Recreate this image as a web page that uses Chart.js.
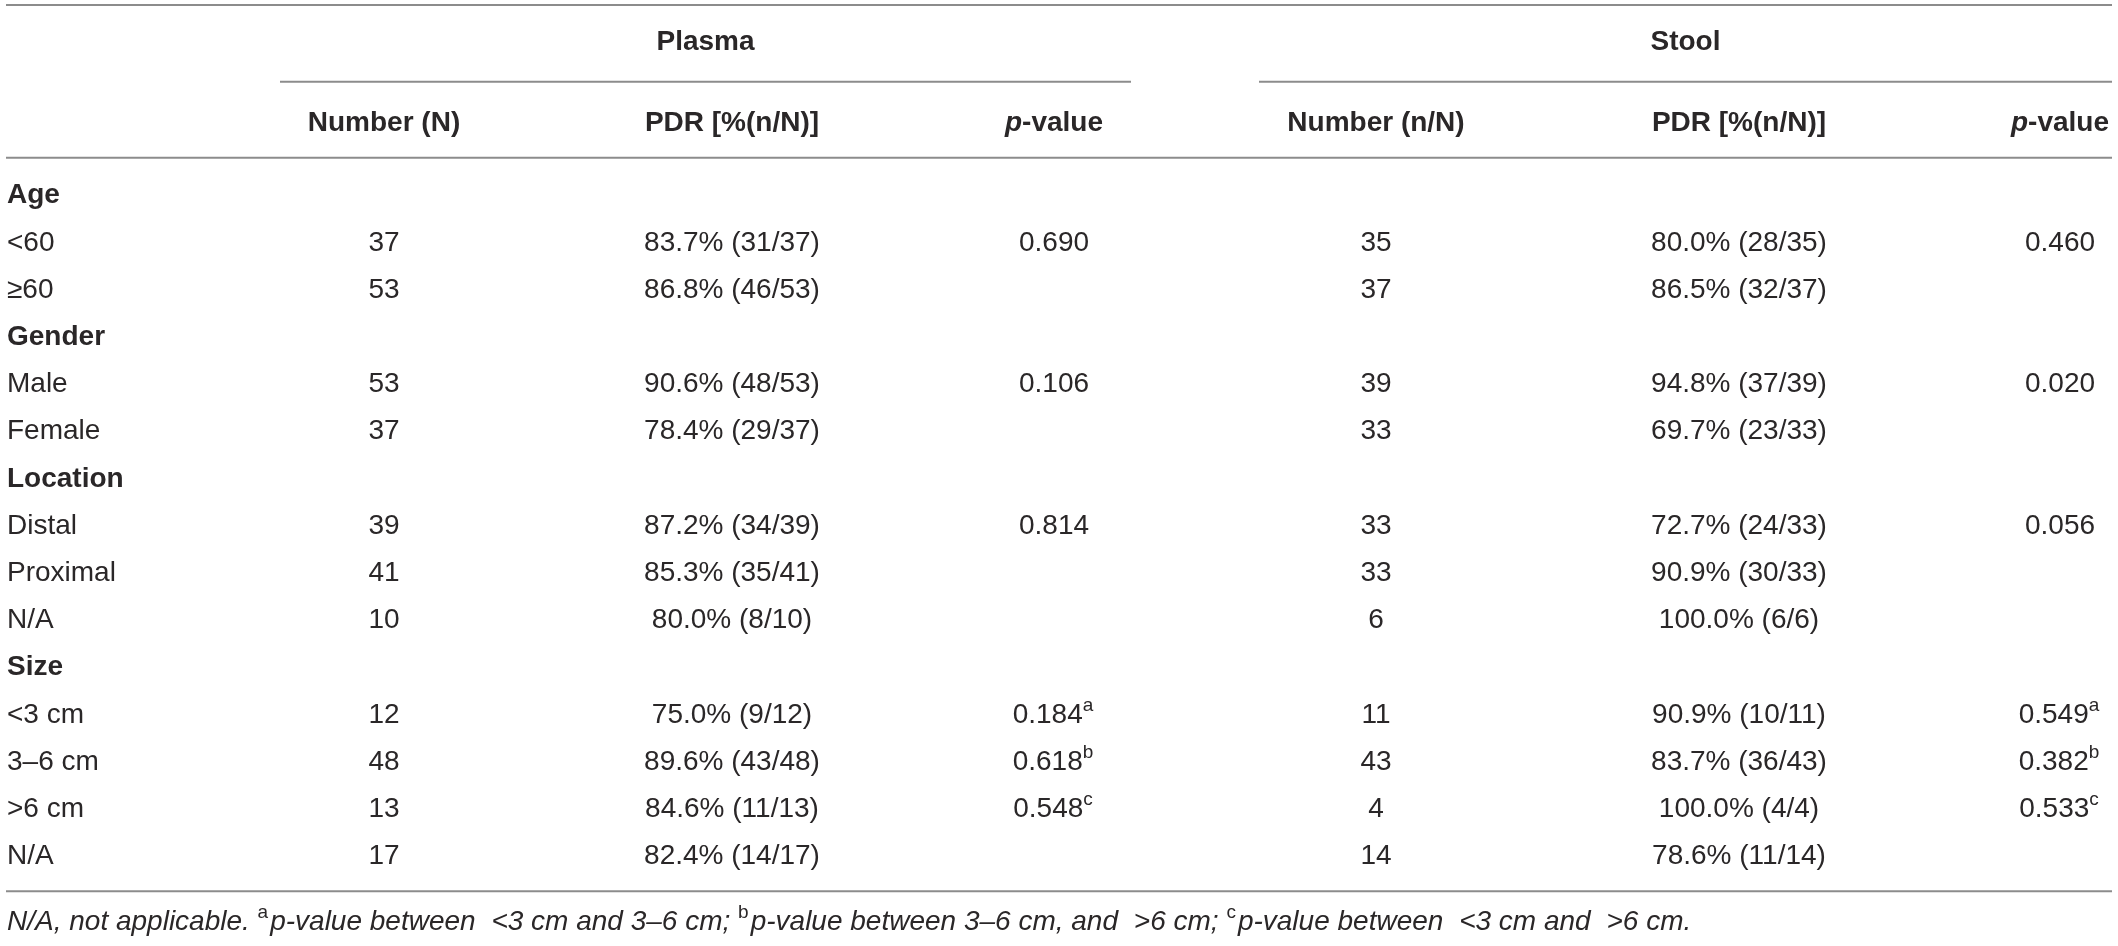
<!DOCTYPE html>
<html>
<head>
<meta charset="utf-8">
<script src="https://cdn.jsdelivr.net/npm/chart.js@4"></script>
<style>
  html,body{margin:0;padding:0;background:#fff;}
  #wrap{width:2118px;height:946px;}
</style>
</head>
<body>
<div id="wrap"><canvas id="tbl" width="2118" height="946"></canvas></div>
<script>
// table data
const rowLabels = ['Age','<60','\u226560','Gender','Male','Female','Location','Distal','Proximal','N/A','Size','<3 cm','3\u20136 cm','>6 cm','N/A'];
const groupRows = [0,3,6,10];

const plasmaN   = [null,'37','53',null,'53','37',null,'39','41','10',null,'12','48','13','17'];
const plasmaPDR = [null,'83.7% (31/37)','86.8% (46/53)',null,'90.6% (48/53)','78.4% (29/37)',null,
                   '87.2% (34/39)','85.3% (35/41)','80.0% (8/10)',null,
                   '75.0% (9/12)','89.6% (43/48)','84.6% (11/13)','82.4% (14/17)'];
const plasmaP   = [null,'0.690',null,null,'0.106',null,null,'0.814',null,null,null,'0.184','0.618','0.548',null];

const stoolN    = [null,'35','37',null,'39','33',null,'33','33','6',null,'11','43','4','14'];
const stoolPDR  = [null,'80.0% (28/35)','86.5% (32/37)',null,'94.8% (37/39)','69.7% (23/33)',null,
                   '72.7% (24/33)','90.9% (30/33)','100.0% (6/6)',null,
                   '90.9% (10/11)','83.7% (36/43)','100.0% (4/4)','78.6% (11/14)'];
const stoolP    = [null,'0.460',null,null,'0.020',null,null,'0.056',null,null,null,'0.549','0.382','0.533',null];

const pNotes    = [null,null,null,null,null,null,null,null,null,null,null,'a','b','c',null];

const groups    = ['Plasma','Stool'];
const subHeads  = ['Number (N)','PDR [%(n/N)]','p-value','Number (n/N)','PDR [%(n/N)]','p-value'];
const footnote  = [
  ['i','N/A, not applicable. '],['s','a'],['i','p-value between '],['g',8],['i','<3 cm and 3\u20136 cm; '],
  ['s','b'],['i','p-value between 3\u20136 cm, and '],['g',8],['i','>6 cm; '],
  ['s','c'],['i','p-value between '],['g',8],['i','<3 cm and '],['g',8],['i','>6 cm.']
];

// layout
const W = 2118, H = 946;
const colX = [7, 384, 732, 1054, 1376, 1739, 2060];
const spanX = [[280,1131],[1259,2112]];
const FONT = '"Liberation Sans", Arial, Helvetica, sans-serif';
const INK = '#2a2728';
const RULE = '#8c8c8c';

function fontFor(kind, size){
  if(kind==='b') return `bold ${size}px ${FONT}`;
  if(kind==='bi') return `italic bold ${size}px ${FONT}`;
  if(kind==='i') return `italic ${size}px ${FONT}`;
  return `${size}px ${FONT}`;
}

// draw list of [kind,text] pieces; 's' = superscript, 'g' = extra gap in px
function drawPieces(ctx, pieces, x, y, align, size){
  const sup = Math.round(size*0.68);
  let total = 0;
  const w = pieces.map(([k,t])=>{
    if(k==='g'){ total += t; return t; }
    ctx.font = k==='s' ? fontFor('n',sup) : fontFor(k,size);
    const m = ctx.measureText(t).width + (k==='s' ? 2 : 0);
    total += m;
    return m;
  });
  let cx = align==='center' ? x - total/2 : (align==='right' ? x - total : x);
  pieces.forEach(([k,t],i)=>{
    if(k==='s'){
      ctx.font = fontFor('n',sup);
      ctx.fillText(t, cx, y - size*0.34);
    }else if(k!=='g'){
      ctx.font = fontFor(k,size);
      ctx.fillText(t, cx, y);
    }
    cx += w[i];
  });
}

function hline(ctx, x1, x2, y){
  ctx.beginPath();
  ctx.moveTo(x1, y);
  ctx.lineTo(x2, y);
  ctx.stroke();
}

const columns = [rowLabels, plasmaN, plasmaPDR, plasmaP, stoolN, stoolPDR, stoolP];

const tablePlugin = {
  id:'tableText',
  afterDatasetsDraw(chart){
    const ctx = chart.ctx;
    const ys = chart.scales.y;
    const rowH = Math.abs(ys.getPixelForValue(1) - ys.getPixelForValue(0));
    const top = ys.getPixelForValue(0);
    ctx.save();
    ctx.fillStyle = INK;
    ctx.textBaseline = 'middle';
    ctx.textAlign = 'left';

    chart.data.datasets.forEach((ds, c)=>{
      const meta = chart.getDatasetMeta(c);
      meta.data.forEach((pt, i)=>{
        const txt = ds.cells[i];
        if(txt==null) return;
        if(c===0){
          drawPieces(ctx, [[groupRows.includes(i)?'b':'n', txt]], pt.x, pt.y, 'left', 28);
        }else{
          const pieces = [['n', txt]];
          if((c===3 || c===6) && pNotes[i]) pieces.push(['s', pNotes[i]]);
          drawPieces(ctx, pieces, pt.x, pt.y, 'center', 28);
        }
      });
    });

    // headers
    const xs = chart.scales.x;
    const gy = top - rowH*3.24, sy = top - rowH*1.54;
    groups.forEach((g,i)=>{
      const mid = (xs.getPixelForValue(spanX[i][0]) + xs.getPixelForValue(spanX[i][1]))/2;
      drawPieces(ctx, [['b', g]], mid, gy, 'center', 28);
    });
    subHeads.forEach((h,i)=>{
      const px = xs.getPixelForValue(colX[i+1]);
      const pieces = h==='p-value' ? [['bi','p'],['b','-value']] : [['b',h]];
      drawPieces(ctx, pieces, px, sy, 'center', 28);
    });

    // rules
    ctx.strokeStyle = RULE;
    ctx.lineWidth = 2;
    const left = xs.getPixelForValue(6), right = xs.getPixelForValue(2112);
    hline(ctx, left, right, top - rowH*4.04);
    spanX.forEach(s=>hline(ctx, xs.getPixelForValue(s[0]), xs.getPixelForValue(s[1]), top - rowH*2.41));
    hline(ctx, left, right, top - rowH*0.8);
    hline(ctx, left, right, ys.getPixelForValue(rowLabels.length-1) + rowH*0.74);

    // footnote
    drawPieces(ctx, footnote, xs.getPixelForValue(7), ys.getPixelForValue(rowLabels.length-1) + rowH*1.4, 'left', 28);
    ctx.restore();
  }
};

const datasets = columns.map((col, c)=>({
  label: c===0 ? 'rows' : subHeads[c-1],
  cells: col,
  data: col.map((_, i)=>({x: colX[c], y: i})),
  pointRadius: 0,
  pointHoverRadius: 0,
  showLine: false
}));

new Chart(document.getElementById('tbl').getContext('2d'), {
  type:'scatter',
  data:{datasets},
  options:{
    responsive:false,
    animation:false,
    devicePixelRatio:1,
    events:[],
    layout:{padding:{left:0,right:0,top:172,bottom:66}},
    plugins:{legend:{display:false},tooltip:{enabled:false}},
    scales:{
      x:{type:'linear',display:false,min:0,max:W},
      y:{type:'linear',display:false,min:-0.5,max:rowLabels.length-0.5,reverse:true}
    }
  },
  plugins:[tablePlugin]
});
</script>
</body>
</html>
